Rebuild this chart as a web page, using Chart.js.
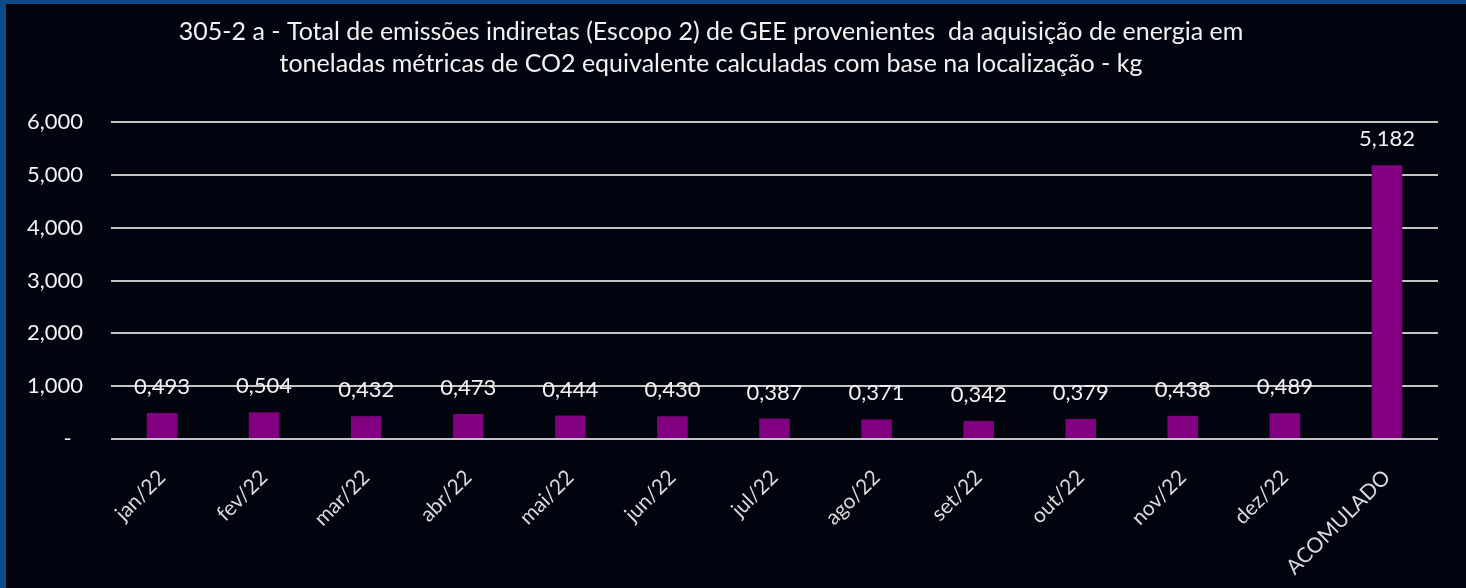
<!DOCTYPE html>
<html>
<head>
<meta charset="utf-8">
<script src="https://cdn.jsdelivr.net/npm/chart.js@4"></script>
<style>
  html, body { margin: 0; padding: 0; background: #0b4b8c; }
  #wrap { position: absolute; left: 6px; top: 4px; width: 1460px; height: 584px; background: #02040f; }
  canvas { display: block; }
</style>
</head>
<body>
<div id="wrap"><canvas id="chart" width="1460" height="584"></canvas></div>
<script>
const meses = ['jan/22', 'fev/22', 'mar/22', 'abr/22', 'mai/22', 'jun/22', 'jul/22', 'ago/22', 'set/22', 'out/22', 'nov/22', 'dez/22', 'ACOMULADO'];
const emissoes = [0.493, 0.504, 0.432, 0.473, 0.444, 0.430, 0.387, 0.371, 0.342, 0.379, 0.438, 0.489, 5.182];
const titulo = [
    '305-2 a - Total de emissões indiretas (Escopo 2) de GEE provenientes  da aquisição de energia em',
    'toneladas métricas de CO2 equivalente calculadas com base na localização - kg'
];

const fonte = '"Lato", sans-serif';

function virgula(v) {
    return v.toFixed(3).replace('.', ',');
}

// titulo desenhado a mao para controlar a posicao
const tituloPlugin = {
    id: 'tituloPlugin',
    afterDraw(chart) {
        const ctx = chart.ctx;
        ctx.save();
        ctx.fillStyle = '#f2f2f2';
        ctx.font = '25px ' + fonte;
        ctx.textAlign = 'center';
        ctx.textBaseline = 'middle';
        ctx.fillText(titulo[0], 705, 28);
        ctx.fillText(titulo[1], 705, 60);
        ctx.restore();
    }
};

const rotulosPlugin = {
    id: 'rotulosPlugin',
    afterDatasetsDraw(chart) {
        const ctx = chart.ctx;
        const meta = chart.getDatasetMeta(0);
        ctx.save();
        ctx.fillStyle = '#f2f2f2';
        ctx.font = '22px ' + fonte;
        ctx.textAlign = 'center';
        ctx.textBaseline = 'bottom';
        meta.data.forEach((bar, i) => {
            ctx.fillText(virgula(emissoes[i]), bar.x, bar.y - 15);
        });
        ctx.restore();
    }
};

const ctxEmissoes = document.getElementById('chart').getContext('2d');
const chartEmissoes = new Chart(ctxEmissoes, {
    type: 'bar',
    data: {
        labels: meses,
        datasets: [{
            data: emissoes,
            backgroundColor: '#800080',
            barPercentage: 0.3,
            categoryPercentage: 1
        }]
    },
    options: {
        responsive: false,
        animation: false,
        layout: { padding: { top: 118, right: 28, left: 0, bottom: 0 } },
        plugins: {
            legend: { display: false },
            tooltip: { enabled: false }
        },
        scales: {
            x: {
                grid: { display: false },
                border: { display: false },
                ticks: {
                    color: '#d9d9d9',
                    font: { family: fonte, size: 21 },
                    minRotation: 45,
                    maxRotation: 45,
                    padding: 18,
                    autoSkip: false
                },
                afterFit(scale) { scale.height = 149; }
            },
            y: {
                min: 0,
                max: 6,
                border: { display: false },
                grid: { color: '#c4c4c4', lineWidth: 2, drawTicks: false },
                ticks: {
                    stepSize: 1,
                    color: '#f2f2f2',
                    font: { family: fonte, size: 22 },
                    padding: 28,
                    callback: (v) => v === 0 ? '-  ' : virgula(v)
                },
                afterFit(scale) { scale.width = 105; }
            }
        }
    },
    plugins: [tituloPlugin, rotulosPlugin]
});
</script>
</body>
</html>
